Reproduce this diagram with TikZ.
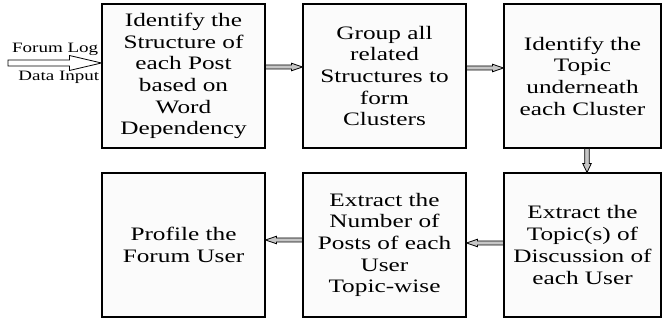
\documentclass[tikz,border=0pt]{standalone}
\usepackage{fontspec}
\setmainfont{Liberation Serif}[FakeStretch=1.33]
\usetikzlibrary{calc}
\tikzset{
  stepbox/.style={draw=black, line width=1.1pt, fill=gray!3, minimum width=163pt, minimum height=144pt,
    inner sep=0pt, align=center, font=\fontsize{19}{21.7}\selectfont},
  lbl/.style={font=\fontsize{14.3}{16}\selectfont, inner sep=0pt},
  arr/.style={draw=black, line width=0.8pt, line join=miter}
}
\newcommand\flowarrow[6]{%
  \path ($(#2)!#5!(#1)$) coordinate (hb);
  \draw[arr, fill=#6] ($(#1)!#3!90:(#2)$) -- ($(hb)!#3!-90:(#1)$) -- ($(hb)!#4!-90:(#1)$) -- (#2)
    -- ($(hb)!#4!90:(#1)$) -- ($(hb)!#3!90:(#1)$) -- ($(#1)!#3!-90:(#2)$) -- cycle;}
\begin{document}
\begin{tikzpicture}[x=1pt,y=1pt]
\useasboundingbox (0,0) rectangle (663,320);
\node[stepbox] (b1) at (183.5,244) {Identify the\\Structure of\\each Post\\based on\\Word\\Dependency};
\node[stepbox] (b2) at (384.5,244) {Group all\\related\\Structures to\\form\\Clusters};
\node[stepbox, minimum width=157pt] (b3) at (582.5,244) {Identify the\\Topic\\underneath\\each Cluster};
\node[stepbox] (b4) at (183.5,75) {Profile the\\Forum User};
\node[stepbox] (b5) at (384.5,75) {Extract the\\Number of\\Posts of each\\User\\Topic-wise};
\node[stepbox, minimum width=157pt] (b6) at (582.5,75) {Extract the\\Topic(s) of\\Discussion of\\each User};
% input
\coordinate (inS) at (8,257);
\coordinate (inE) at ([yshift=13pt]b1.west);
\flowarrow{inS}{inE}{3pt}{7.5pt}{32pt}{white}
\node[lbl, anchor=south east] (l1) at ([xshift=-3pt,yshift=7pt]b1.west |- inE) {Forum Log};
\node[lbl, anchor=north east] (l2) at ([xshift=-2pt,yshift=-8pt]b1.west |- inE) {Data Input};
% connectors
\coordinate (a1s) at ([yshift=9pt]b1.east);
\coordinate (a1e) at ([yshift=9pt]b2.west);
\flowarrow{a1s}{a1e}{2pt}{3.8pt}{11pt}{gray!45}
\coordinate (a2s) at ([yshift=8pt]b2.east);
\coordinate (a2e) at ([yshift=8pt]b3.west);
\flowarrow{a2s}{a2e}{2pt}{3.8pt}{11pt}{gray!45}
\coordinate (a3s) at ([xshift=4.5pt]b3.south);
\coordinate (a3e) at ([xshift=4.5pt]b6.north);
\flowarrow{a3s}{a3e}{2.3pt}{4.3pt}{9pt}{gray!45}
\coordinate (a4s) at ([yshift=2pt]b6.west);
\coordinate (a4e) at ([yshift=2pt]b5.east);
\flowarrow{a4s}{a4e}{2pt}{3.8pt}{11pt}{gray!45}
\coordinate (a5s) at ([yshift=5pt]b5.west);
\coordinate (a5e) at ([yshift=5pt]b4.east);
\flowarrow{a5s}{a5e}{2pt}{3.8pt}{11pt}{gray!45}
\end{tikzpicture}
\end{document}
